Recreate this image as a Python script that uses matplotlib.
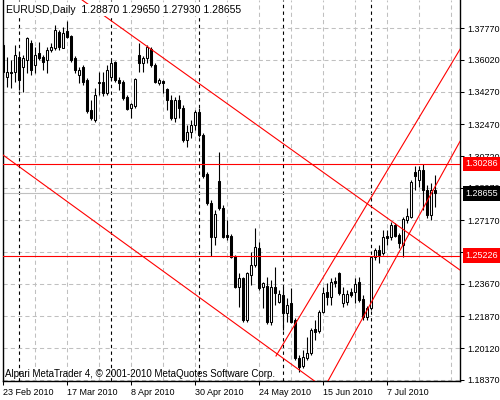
import numpy as np
import pandas as pd
import matplotlib
matplotlib.use("Agg")
import matplotlib.pyplot as plt
import matplotlib.transforms as mtransforms

symbol = "EURUSD,Daily"
first_day = "2010-02-23"

opens = [
    1.3685, 1.3508, 1.3536, 1.3536, 1.3619, 1.3563, 1.3602, 1.3696, 1.3575, 1.3641,
    1.3619, 1.3602, 1.3657, 1.3668, 1.3757, 1.3668, 1.3762, 1.3734, 1.3613, 1.3519,
    1.3563, 1.3492, 1.3326, 1.3271, 1.3475, 1.3481, 1.3420, 1.3508, 1.3591, 1.3492,
    1.3481, 1.3398, 1.3337, 1.3348, 1.3630, 1.3586, 1.3613, 1.3663, 1.3575, 1.3475,
    1.3486, 1.3442, 1.3381, 1.3282, 1.3381, 1.3337, 1.3161, 1.3205, 1.3244, 1.3315,
    1.3188, 1.2973, 1.2813, 1.2626, 1.2935, 1.2786, 1.2637, 1.2631, 1.2521, 1.2350,
    1.2400, 1.2168, 1.2416, 1.2471, 1.2565, 1.2350, 1.2355, 1.2157, 1.2350, 1.2267,
    1.2306, 1.2207, 1.2262, 1.2168, 1.1958, 1.1914, 1.1958, 1.1986, 1.2118, 1.2107,
    1.2212, 1.2322, 1.2295, 1.2383, 1.2427, 1.2262, 1.2267, 1.2322, 1.2322, 1.2377,
    1.2284, 1.2184, 1.2234, 1.2515, 1.2554, 1.2537, 1.2631, 1.2626, 1.2692, 1.2637,
    1.2582, 1.2719, 1.2736, 1.2984, 1.2940, 1.2995, 1.2885, 1.2747, 1.28870]
highs = [
    1.3696, 1.3619, 1.3602, 1.3685, 1.3646, 1.3630, 1.3729, 1.3712, 1.3674, 1.3701,
    1.3630, 1.3674, 1.3696, 1.3795, 1.3768, 1.3784, 1.3817, 1.3740, 1.3624, 1.3563,
    1.3575, 1.3503, 1.3381, 1.3448, 1.3536, 1.3536, 1.3575, 1.3602, 1.3597, 1.3508,
    1.3492, 1.3409, 1.3365, 1.3503, 1.3696, 1.3624, 1.3685, 1.3674, 1.3586, 1.3503,
    1.3492, 1.3448, 1.3409, 1.3398, 1.3409, 1.3354, 1.3244, 1.3271, 1.3326, 1.3337,
    1.3199, 1.2984, 1.2830, 1.2775, 1.3095, 1.2802, 1.2719, 1.2642, 1.2526, 1.2427,
    1.2405, 1.2433, 1.2543, 1.2675, 1.2598, 1.2377, 1.2405, 1.2389, 1.2460, 1.2333,
    1.2350, 1.2289, 1.2344, 1.2179, 1.1975, 1.2002, 1.2074, 1.2124, 1.2168, 1.2223,
    1.2350, 1.2372, 1.2400, 1.2405, 1.2433, 1.2350, 1.2333, 1.2344, 1.2400, 1.2405,
    1.2306, 1.2245, 1.2521, 1.2565, 1.2582, 1.2664, 1.2664, 1.2708, 1.2703, 1.2648,
    1.2736, 1.2786, 1.2940, 1.3017, 1.3017, 1.3028, 1.2913, 1.2924, 1.29650]
lows = [
    1.3492, 1.3453, 1.3448, 1.3481, 1.3437, 1.3426, 1.3530, 1.3519, 1.3530, 1.3602,
    1.3547, 1.3530, 1.3646, 1.3657, 1.3657, 1.3668, 1.3723, 1.3591, 1.3530, 1.3475,
    1.3464, 1.3310, 1.3271, 1.3260, 1.3409, 1.3404, 1.3409, 1.3492, 1.3481, 1.3437,
    1.3381, 1.3326, 1.3282, 1.3337, 1.3536, 1.3536, 1.3586, 1.3563, 1.3475, 1.3464,
    1.3420, 1.3326, 1.3271, 1.3260, 1.3282, 1.3150, 1.3122, 1.3172, 1.3216, 1.3177,
    1.2951, 1.2802, 1.25226, 1.2582, 1.2775, 1.2620, 1.2609, 1.2510, 1.2345, 1.2240,
    1.2157, 1.2157, 1.2361, 1.2460, 1.2333, 1.2234, 1.2146, 1.2140, 1.2251, 1.2262,
    1.2113, 1.2157, 1.2151, 1.1947, 1.1881, 1.1903, 1.1947, 1.1975, 1.2058, 1.2096,
    1.2207, 1.2251, 1.2251, 1.2350, 1.2306, 1.2240, 1.2251, 1.2295, 1.2262, 1.2267,
    1.2168, 1.2168, 1.2223, 1.2499, 1.2482, 1.2526, 1.2582, 1.2609, 1.2626, 1.2565,
    1.2515, 1.2703, 1.2730, 1.2885, 1.2901, 1.2775, 1.2730, 1.2719, 1.27930]
closes = [
    1.3536, 1.3536, 1.3530, 1.3630, 1.3492, 1.3613, 1.3723, 1.3547, 1.3630, 1.3613,
    1.3591, 1.3657, 1.3674, 1.3768, 1.3674, 1.3751, 1.3729, 1.3602, 1.3547, 1.3547,
    1.3481, 1.3321, 1.3282, 1.3409, 1.3481, 1.3420, 1.3547, 1.3586, 1.3492, 1.3475,
    1.3392, 1.3332, 1.3359, 1.3497, 1.3586, 1.3613, 1.3674, 1.3575, 1.3481, 1.3492,
    1.3475, 1.3381, 1.3282, 1.3381, 1.3337, 1.3161, 1.3205, 1.3244, 1.3315, 1.3188,
    1.2962, 1.2813, 1.2626, 1.2753, 1.2786, 1.2626, 1.2626, 1.2515, 1.2350, 1.2400,
    1.2168, 1.2427, 1.2471, 1.2571, 1.2344, 1.2372, 1.2157, 1.2350, 1.2317, 1.2311,
    1.2207, 1.2251, 1.2157, 1.1958, 1.1909, 1.1964, 1.1986, 1.2113, 1.2102, 1.2212,
    1.2317, 1.2295, 1.2377, 1.2372, 1.2317, 1.2311, 1.2311, 1.2306, 1.2366, 1.2278,
    1.2184, 1.2234, 1.2515, 1.2554, 1.2526, 1.2626, 1.2620, 1.2692, 1.2631, 1.2593,
    1.2725, 1.2742, 1.2929, 1.2962, 1.2995, 1.2885, 1.2747, 1.2885, 1.28655]

price_ticks = [1.18370, 1.20120, 1.21870, 1.23670, 1.25420, 1.27170,
               1.28970, 1.30720, 1.32470, 1.34270, 1.36020, 1.37770]
label_bars = [0, 16, 32, 48, 64, 80, 96]
levels = [1.30286, 1.25226]
bid = 1.28655

# trend lines as (bar, price) anchors
chan_upper = [(25.75, 1.3839), (113.5, 1.2455)]
chan_lower = [(0.0, 1.3078), (77.5, 1.1837)]
ray_up = [(68.25, 1.1969), (114.5, 1.3670)]
line_up = [(81.25, 1.1831), (113.75, 1.3133)]

plt.rcParams['font.family'] = ['Liberation Sans', 'DejaVu Sans']
FS = 6.5

fig = plt.figure(figsize=(5, 4), dpi=100)
ax = fig.add_axes([0.005, 0.0475, 0.915, 0.9525])

o = np.array(opens); h = np.array(highs); l = np.array(lows); c = np.array(closes)
n = len(o)
x = np.arange(n)
dates = pd.bdate_range(first_day, periods=n)

ax.set_xlim(-0.125, 114.25)
ax.set_ylim(1.1831, 1.3933)

# grid
for gx in range(0, 115, 8):
    ax.axvline(gx, color='#c0c0c0', lw=0.75, ls=(0, (4, 3)), zorder=0)
for p in price_ticks:
    ax.axhline(p, color='#c0c0c0', lw=0.75, ls=(0, (4, 3)), zorder=0)

# period separators (month starts)
for i in range(1, n):
    if dates[i].month != dates[i - 1].month:
        ax.axvline(i, color='black', lw=0.8, ls=(0, (3, 3)), zorder=0.5)

ax.axhline(bid, color='#c0c0c0', lw=0.8, zorder=1)

# candles
up = c >= o
ax.vlines(x, l, h, color='black', lw=0.8, zorder=2)
ax.bar(x, np.abs(c - o), bottom=np.minimum(o, c), width=0.5,
       color=np.where(up, 'white', 'black'), edgecolor='black', lw=0.75, zorder=3)

# objects
ax.axline(*chan_upper, color='red', lw=0.8, zorder=4)
ax.axline(*chan_lower, color='red', lw=0.8, zorder=4)
ax.axline(*line_up, color='red', lw=0.8, zorder=4)
ax.plot([ray_up[0][0], ray_up[1][0]], [ray_up[0][1], ray_up[1][1]], color='red', lw=0.8, zorder=4)
for lv in levels:
    ax.axhline(lv, color='red', lw=0.8, zorder=4)

# axes
for s in ['left', 'right', 'bottom']:
    ax.spines[s].set_color('black')
    ax.spines[s].set_linewidth(1.0)
ax.spines['top'].set_visible(False)
ax.yaxis.tick_right()
ax.set_yticks(price_ticks)
ax.set_yticklabels([f"{p:.5f}" for p in price_ticks])
ax.set_xticks(label_bars)
ax.set_xticklabels([f"{dates[i].day} {dates[i].strftime('%b %Y')}" for i in label_bars])
for t in ax.get_xticklabels():
    t.set_ha('left')
ax.tick_params(axis='both', direction='out', length=3, width=0.75, labelsize=FS,
               pad=2, colors='black')

# price labels
tr = mtransforms.blended_transform_factory(ax.transAxes, ax.transData)
for lv in levels:
    ax.text(1.012, lv, f"{lv:.5f}", transform=tr, color='white', fontsize=FS,
            va='center', ha='left', zorder=6, clip_on=False,
            bbox=dict(boxstyle='square,pad=0.3', fc='red', ec='none'))
ax.text(1.012, bid, f"{bid:.5f}", transform=tr, color='white', fontsize=FS,
        va='center', ha='left', zorder=6, clip_on=False,
        bbox=dict(boxstyle='square,pad=0.3', fc='black', ec='none'))

title = f"{symbol}  {opens[-1]:.5f} {highs[-1]:.5f} {lows[-1]:.5f} {closes[-1]:.5f}"
fig.text(6 / 500, 1 - 10 / 400, title, fontsize=7.5, va='center', ha='left', zorder=10,
         bbox=dict(boxstyle='square,pad=0.1', fc='white', ec='none'))
fig.text(5 / 500, 1 - 374 / 400, "Alpari MetaTrader 4, \u00a9 2001-2010 MetaQuotes Software Corp.",
         fontsize=7, va='center', ha='left', zorder=10)

fig.savefig('out.png', dpi=100)
